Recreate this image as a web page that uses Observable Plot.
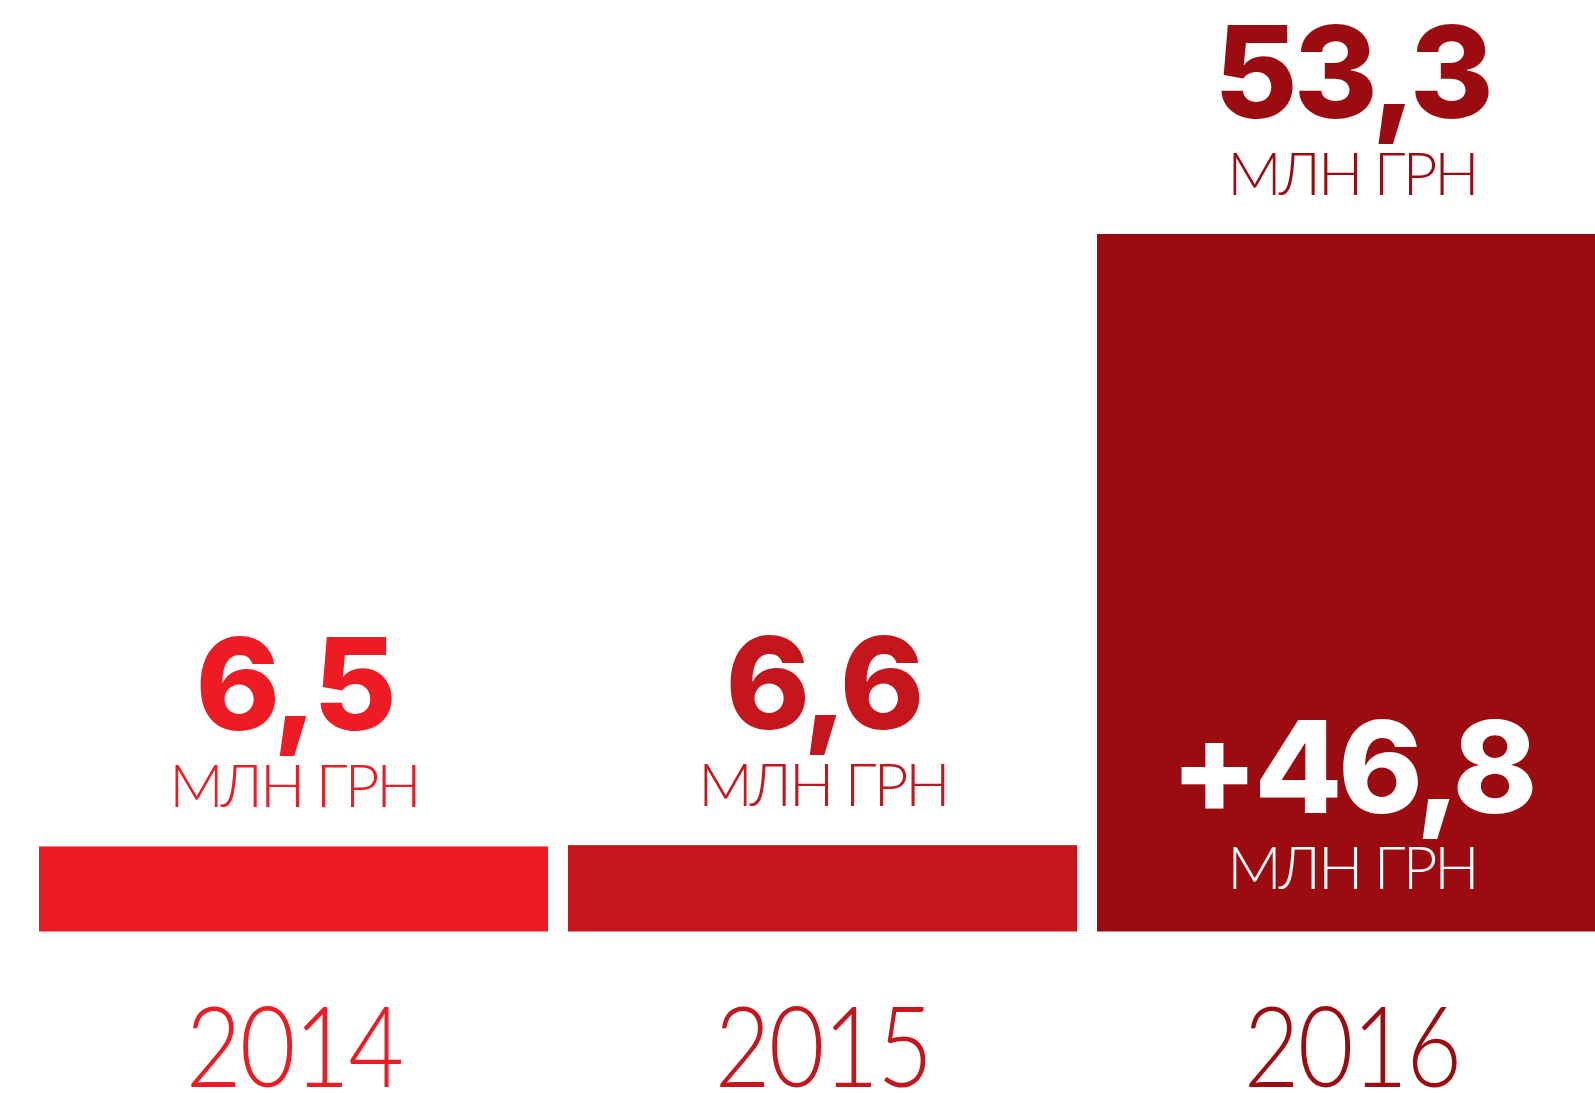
<!DOCTYPE html>
<html>
<head>
<meta charset="utf-8">
<script src="https://cdn.jsdelivr.net/npm/d3@7"></script>
<script src="https://cdn.jsdelivr.net/npm/@observablehq/plot@0.6"></script>
<style>
  html, body { margin: 0; padding: 0; background: #fff; overflow: hidden; }
  #chart svg { display: block; overflow: hidden; }
</style>
</head>
<body>
<div id="chart"></div>
<script>
const years = ["2014", "2015", "2016"];
const values = [6.5, 6.6, 53.3];
const colors = ["#ED1C24", "#C4161C", "#9C0B10"];
const valueLabels = ["6,5", "6,6", "53,3"];
const unitLabel = "МЛН ГРН";
const increaseYear = ["2016"];
const increaseLabel = ["+46,8"];

const data = years.map((y, i) => ({year: y, value: values[i], color: colors[i], label: valueLabels[i]}));
const inc = increaseYear.map((y, i) => ({year: y, label: increaseLabel[i]}));
const colorOf = Object.fromEntries(years.map((y, i) => [y, colors[i]]));

const boldFont = "Inter, 'Liberation Sans', sans-serif";
const lightFont = "Lato, 'Noto Sans', sans-serif";

const chart = Plot.plot({
  width: 1595,
  height: 1093,
  marginTop: 234,
  marginBottom: 161.5,
  marginLeft: 0,
  marginRight: 0,
  style: {background: "white", overflow: "hidden"},
  x: {type: "band", domain: years, range: [38.7, 1605.7], paddingInner: 0.038, paddingOuter: 0, label: null},
  y: {domain: [0, 53.3], axis: null},
  marks: [
    Plot.barY(data, {x: "year", y: "value", fill: "color"}),
    Plot.text(data, {x: "year", y: "value", text: "label", fill: "color",
      lineAnchor: "bottom", dy: -117, fontSize: 128, fontWeight: 800, fontFamily: boldFont}),
    Plot.text(data, {x: "year", y: "value", text: () => unitLabel, fill: "color", lineAnchor: "bottom", dy: -40,
      fontSize: 60, fontWeight: 300, fontFamily: lightFont}),
    Plot.text(inc, {x: "year", y: () => 0, text: "label", fill: "white",
      lineAnchor: "bottom", dy: -119, fontSize: 128, fontWeight: 800, fontFamily: boldFont}),
    Plot.text(inc, {x: "year", y: () => 0, text: () => unitLabel, fill: "white", lineAnchor: "bottom", dy: -43.5,
      fontSize: 60, fontWeight: 300, fontFamily: lightFont}),
    Plot.axisX({tickSize: 0, tickPadding: 75, fontSize: 112, fontWeight: 300, fontFamily: lightFont,
      fill: d => colorOf[d], label: null})
  ]
});
document.getElementById("chart").appendChild(chart);

// typographic tightening
d3.select(chart).selectAll("text").each(function() {
  const t = this.textContent;
  if (t === unitLabel) {
    this.style.letterSpacing = "-3px";
  } else if (years.includes(t)) {
    const tr = this.getAttribute("transform") || "";
    this.setAttribute("transform", (tr + " scale(0.86,1)").trim());
    this.style.letterSpacing = "-2px";
  } else {
    this.style.letterSpacing = "-4px";
  }
});
</script>
</body>
</html>
